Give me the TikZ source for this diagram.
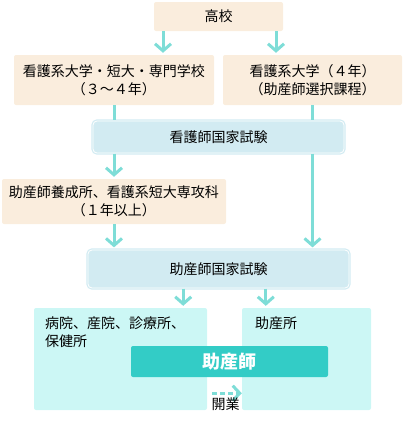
\documentclass[tikz,border=0pt]{standalone}
\usepackage{fontspec}
\setmainfont{Noto Sans CJK JP}
\usepackage{tikz}
\usetikzlibrary{arrows.meta, positioning, calc}
\definecolor{beigefill}{RGB}{250,237,221}
\definecolor{examfill}{RGB}{210,235,242}
\definecolor{workfill}{RGB}{204,247,245}
\definecolor{barfill}{RGB}{51,204,198}
\definecolor{flowcol}{RGB}{126,221,215}

\begin{document}
\begin{tikzpicture}[x=1pt, y=-1pt,
      school/.style={fill=beigefill, rounded corners=2pt, inner sep=0pt,
                     align=center, font=\fontsize{14}{18}\selectfont},
      exam/.style={fill=examfill, draw=examfill, double=white, double distance=0.8pt,
                   line width=1.2pt, rounded corners=4pt, inner sep=0pt,
                   font=\fontsize{14}{18}\selectfont},
      work/.style={fill=workfill, rounded corners=2pt, inner sep=0pt},
      txt/.style={align=left, inner sep=0pt, font=\fontsize{14}{18}\selectfont},
      flow/.style={draw=flowcol, line width=3pt,
                   -{Straight Barb[length=7pt, width=16pt]}},
      link/.style={draw=flowcol, line width=3pt},
      openflow/.style={draw=flowcol, line width=3pt, dash pattern=on 5pt off 3pt,
                       -{Straight Barb[length=7pt, width=15pt]}}
    ]
    \useasboundingbox (0,0) rectangle (420,423);

    % Schulen
    \node[school, minimum width=129pt, minimum height=29pt] (highschool) at (218.5,16.5) {高校};
    \node[school, minimum width=200pt, minimum height=50pt] (nurseuni)   at (114,80)
      {看護系大学・短大・専門学校\\（３～４年）};
    \node[school, minimum width=179pt, minimum height=50pt] (midwifeuni) at (312.5,80)
      {看護系大学（４年）\\（助産師選択課程）};
    \node[school, minimum width=224pt, minimum height=45pt] (training)   at (114,201.5)
      {助産師養成所、看護系短大専攻科\\（１年以上）};

    % Prüfungen
    \node[exam, minimum width=251pt, minimum height=32pt] (nurseexam) at (218.5,137) {看護師国家試験};
    \node[exam, minimum width=261pt, minimum height=38pt] (midexam)   at (218.5,269) {助産師国家試験};

    % Arbeitsorte
    \node[work, minimum width=173pt, minimum height=102pt] (hospital) at (120.5,359) {};
    \node[work, minimum width=129pt, minimum height=102pt] (clinic)   at (306.5,359) {};
    \node[txt, anchor=north west] (hospitaltxt) at ([shift={(11pt,-9pt)}]hospital.north west)
      {病院、産院、診療所、\\保健所};
    \node[txt, anchor=north west] (clinictxt) at ([shift={(13pt,-9pt)}]clinic.north west) {助産所};
    \node[fill=barfill, rounded corners=2pt, minimum width=197pt, minimum height=31pt,
          inner sep=0pt, text=white, font=\fontsize{18}{20}\selectfont\bfseries]
      (midwife) at (229.5,361.5) {助産師};

    % Verbindungen
    \coordinate (leftout)  at ([xshift=-55.5pt]highschool.south);
    \coordinate (rightout) at ([xshift=57.5pt]highschool.south);
    \coordinate (hospin)   at ([xshift=-24pt]hospital.north east);
    \coordinate (clinin)   at ([xshift=24pt]clinic.north west);
    \draw[flow] (leftout)  -- ($(leftout |- nurseuni.north)+(0,-2)$);
    \draw[flow] (rightout) -- ($(rightout |- midwifeuni.north)+(0,-2)$);
    \draw[link] (nurseuni.south) -- (nurseuni.south |- nurseexam.north);
    \draw[link] (midwifeuni.south) -- (midwifeuni.south |- nurseexam.north);
    \draw[flow] (nurseuni.south |- nurseexam.south) -- ($(training.north)+(0,-2)$);
    \draw[flow] (midwifeuni.south |- nurseexam.south) -- ($(midwifeuni.south |- midexam.north)+(0,-2)$);
    \draw[flow] (training.south) -- ($(training.south |- midexam.north)+(0,-2)$);
    \draw[flow] (hospin |- midexam.south) -- ($(hospin)+(0,-2)$);
    \draw[flow] (clinin |- midexam.south) -- ($(clinin)+(0,-2)$);
    \draw[openflow] ([shift={(5pt,17pt)}]hospital.south east) -- ([yshift=17pt]clinic.south west)
      node[pos=0.45, below=3pt, txt] (opening) {開業};
\end{tikzpicture}
\end{document}
